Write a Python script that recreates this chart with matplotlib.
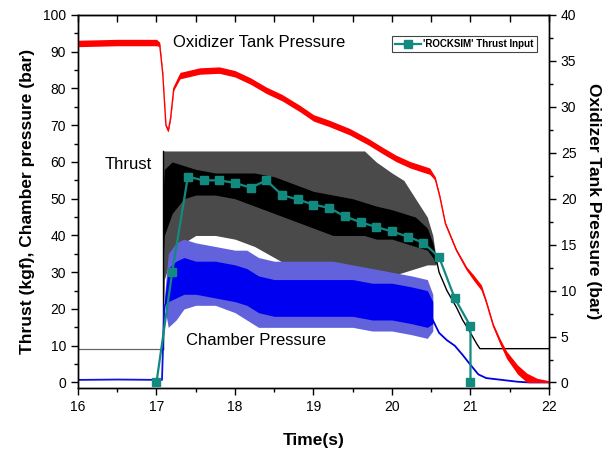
import matplotlib.pyplot as plt
from matplotlib.ticker import MultipleLocator

plt.rcParams['font.family'] = ['Liberation Sans', 'DejaVu Sans']

# ROCKSIM thrust input (kgf)
rs_time = [17.0, 17.2, 17.4, 17.6, 17.8, 18.0, 18.2, 18.4, 18.6, 18.8, 19.0,
           19.2, 19.4, 19.6, 19.8, 20.0, 20.2, 20.4, 20.6, 20.8, 21.0, 21.0]
rs_thrust = [0, 30, 56, 55, 55, 54.3, 53, 55, 51, 49.8, 48.4,
             47.5, 45.2, 43.6, 42.3, 41.1, 39.7, 38, 34.1, 22.9, 15.3, 0]

# measured thrust: idle trace, burn envelope, tail-off
thr_pre_t = [16.0, 17.08]
thr_pre = [9, 9]
thr_t = [17.08, 17.1, 17.2, 17.35, 17.5, 17.75, 18.0, 18.25, 18.5, 18.75, 19.0,
         19.25, 19.5, 19.65, 19.8, 20.0, 20.15, 20.3, 20.45, 20.52, 20.56]
thr_hi = [63, 63, 63, 63, 63, 63, 63, 63, 63, 63, 63,
          63, 63, 63, 60, 57, 55, 50, 45, 40, 34]
thr_lo = [9, 28, 35, 38, 40, 40, 39, 37, 34, 31, 28,
          26, 25, 26, 27, 29, 30, 31, 32, 32, 32]
thr_core_hi = [50, 58, 60, 59, 58, 57, 57, 57, 56, 54, 52,
               51, 50, 49, 48, 47, 46, 45, 42, 38, 34]
thr_core_lo = [30, 40, 46, 50, 51, 51, 50, 48, 46, 44, 42,
               40, 40, 40, 39, 39, 38, 37, 36, 34, 32]
thr_post_t = [20.56, 20.6, 20.7, 20.82, 20.9, 21.0, 21.08, 21.12, 22.0]
thr_post = [34, 30, 25, 20.5, 17, 13.5, 10.5, 9.2, 9.2]

# chamber pressure (bar)
cp_pre_t = [16.0, 16.5, 17.07, 17.1]
cp_pre = [0.7, 0.8, 0.7, 21]
cp_t = [17.1, 17.15, 17.25, 17.35, 17.5, 17.75, 18.0, 18.15, 18.3, 18.5,
        18.75, 19.0, 19.25, 19.5, 19.75, 20.0, 20.25, 20.45, 20.52]
cp_hi = [23, 35, 38, 39, 38, 37, 36, 36, 34, 33, 33, 33, 33, 32, 31, 30, 29, 28, 24]
cp_lo = [21, 15, 17, 20, 21, 21, 19, 17, 15, 15, 15, 15, 15, 15, 14, 14, 13, 12, 14]
cp_core_hi = [22, 31, 33, 34, 33, 33, 32, 31, 29, 28, 28, 28, 28, 28, 27, 27, 26, 25, 22]
cp_core_lo = [21, 22, 23, 24, 24, 23, 22, 21, 19, 18, 18, 18, 18, 18, 17, 17, 16, 15, 16]
cp_post_t = [20.52, 20.6, 20.7, 20.8, 20.9, 21.0, 21.1, 21.2, 21.4, 21.6, 21.75, 22.0]
cp_post = [17, 13.5, 11.5, 10, 7.5, 4.8, 2.2, 1.2, 0.7, 0.2, 0, 0]

# oxidizer tank pressure (bar, right axis): centre and half spread
ox_t = [16.0, 16.5, 17.0, 17.04, 17.08, 17.12, 17.15, 17.18, 17.22, 17.3,
        17.55, 17.8, 18.0, 18.2, 18.4, 18.6, 18.83, 19.0, 19.2, 19.46,
        19.7, 19.89, 20.05, 20.23, 20.48, 20.55, 20.61, 20.68, 20.82, 20.95,
        21.04, 21.14, 21.2, 21.29, 21.38, 21.46, 21.6, 21.72, 21.85, 22.0]
ox_p = [36.9, 37.0, 37.0, 36.8, 33.6, 28.0, 27.4, 28.8, 32.0, 33.4,
        33.9, 34.0, 33.6, 32.8, 31.8, 31.0, 29.8, 28.8, 28.2, 27.3,
        26.2, 25.2, 24.4, 23.7, 23.0, 22.2, 20.2, 17.3, 14.4, 12.4,
        11.4, 10.3, 8.8, 6.2, 4.4, 3.0, 1.4, 0.5, 0.1, 0.0]
ox_spread = [0.35, 0.35, 0.35, 0.25, 0.15, 0.15, 0.15, 0.15, 0.2, 0.35,
             0.35, 0.35, 0.35, 0.35, 0.35, 0.35, 0.35, 0.35, 0.35, 0.35,
             0.35, 0.35, 0.35, 0.35, 0.35, 0.2, 0.15, 0.15, 0.15, 0.2,
             0.3, 0.3, 0.2, 0.2, 0.3, 0.4, 0.5, 0.5, 0.35, 0.2]

fig = plt.figure(figsize=(6.16, 4.5), dpi=100)
ax = fig.add_axes([0.1266, 0.1378, 0.7646, 0.8289])

# thrust
ax.plot(thr_pre_t, thr_pre, color='#666666', lw=0.9)
ax.fill_between(thr_t, thr_lo, thr_hi, color='#4a4a4a', lw=0)
ax.fill_between(thr_t, thr_core_lo, thr_core_hi, color='black', lw=0)
ax.plot([17.08, 17.08], [9, 63], color='black', lw=1)
ax.plot(thr_post_t, thr_post, color='black', lw=1)

# chamber pressure
ax.plot(cp_pre_t, cp_pre, color='#1010e0', lw=1.3)
ax.fill_between(cp_t, cp_lo, cp_hi, color='#6262dc', lw=0)
ax.fill_between(cp_t, cp_core_lo, cp_core_hi, color='#0000f0', lw=0)
ax.plot(cp_post_t, cp_post, color='#0000e0', lw=1.3)

# rocksim input
rs_line, = ax.plot(rs_time, rs_thrust, color='#138a80', lw=1.6, marker='s',
                   markersize=5.5, label="'ROCKSIM' Thrust Input", zorder=5)

ax.set_xlim(16, 22)
ax.set_ylim(-1.5, 100)
ax.xaxis.set_major_locator(MultipleLocator(1))
ax.xaxis.set_minor_locator(MultipleLocator(0.5))
ax.yaxis.set_major_locator(MultipleLocator(10))
ax.yaxis.set_minor_locator(MultipleLocator(5))
ax.tick_params(which='major', direction='out', length=5, width=1, labelsize=10)
ax.tick_params(which='minor', direction='out', length=3, width=1)
ax.set_xlabel('Time(s)', fontsize=12.5, fontweight='bold', labelpad=14)
ax.set_ylabel('Thrust (kgf), Chamber pressure (bar)', fontsize=12.5,
              fontweight='bold', labelpad=6)

top = ax.secondary_xaxis('top')
top.xaxis.set_major_locator(MultipleLocator(1))
top.xaxis.set_minor_locator(MultipleLocator(0.5))
top.tick_params(which='both', direction='in', length=5, width=1, labeltop=False)

# oxidizer tank pressure on right axis
ax2 = ax.twinx()
ox_lo = [max(p - s, 0) for p, s in zip(ox_p, ox_spread)]
ox_hi = [p + s for p, s in zip(ox_p, ox_spread)]
ax2.fill_between(ox_t, ox_lo, ox_hi, color='#ff0000', lw=0)
ax2.plot(ox_t, ox_p, color='red', lw=1.0)
ax2.set_ylim(-0.6, 40)
ax2.yaxis.set_major_locator(MultipleLocator(5))
ax2.yaxis.set_minor_locator(MultipleLocator(2.5))
ax2.tick_params(which='major', direction='out', length=5, width=1, labelsize=10)
ax2.tick_params(which='minor', direction='out', length=3, width=1)
ax2.set_ylabel('Oxidizer Tank Pressure (bar)', fontsize=12.5, fontweight='bold',
               rotation=270, labelpad=18)

for a in (ax, ax2):
    for s in a.spines.values():
        s.set_linewidth(1)

ax.text(17.21, 92.5, 'Oxidizer Tank Pressure', fontsize=12, va='center')
ax.text(16.34, 59.2, 'Thrust', fontsize=12, va='center')
ax.text(17.37, 11.5, 'Chamber Pressure', fontsize=12, va='center')

leg = ax2.legend(handles=[rs_line], loc='upper right', bbox_to_anchor=(0.975, 0.945),
                 borderaxespad=0, fancybox=False, framealpha=1, edgecolor='#444444',
                 prop={'weight': 'bold', 'size': 7}, handlelength=2.6,
                 borderpad=0.35, handletextpad=0.3)
leg.get_frame().set_linewidth(0.8)

fig.savefig('out.png', dpi=100)
